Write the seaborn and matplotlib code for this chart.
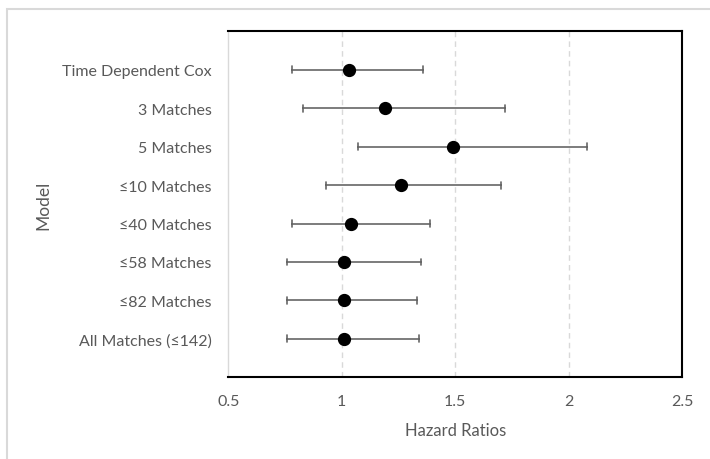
import matplotlib
matplotlib.use("Agg")
import matplotlib.pyplot as plt
from matplotlib.patches import Rectangle
import seaborn as sns
import pandas as pd

# hazard ratios with 95% CI
models = ["Time Dependent Cox", "3 Matches", "5 Matches", "≤10 Matches",
          "≤40 Matches", "≤58 Matches", "≤82 Matches", "All Matches (≤142)"]
hr = [1.03, 1.19, 1.49, 1.26, 1.04, 1.01, 1.01, 1.01]
lower = [0.78, 0.83, 1.07, 0.93, 0.78, 0.76, 0.76, 0.76]
upper = [1.36, 1.72, 2.08, 1.70, 1.39, 1.35, 1.33, 1.34]
xticks = [0.5, 1, 1.5, 2, 2.5]

# long table: median of (lo, hr, hi) is the HR, 100% interval is the CI
rows = []
for m, h, lo, hi in zip(models, hr, lower, upper):
    for v in (lo, h, hi):
        rows.append({"Model": m, "HR": v})
df = pd.DataFrame(rows)

sns.set_style("white")
plt.rcParams['font.family'] = ['Lato', 'DejaVu Sans']
txt = "#595959"

fig = plt.figure(figsize=(7.1, 4.6), dpi=100)
ax = fig.add_axes([0.3216, 0.1776, 0.639, 0.7522])

sns.pointplot(data=df, x="HR", y="Model", order=models, orient="h",
              estimator="median", errorbar=("pi", 100), color="black",
              linestyle="none", markersize=7.5, capsize=0.18,
              err_kws={"color": "#666666", "linewidth": 1.2, "zorder": 1.5},
              ax=ax)

ax.set_xlim(0.5, 2.5)
ax.set_ylim(8, -1)
ax.set_xticks(xticks)
ax.set_xticklabels(["0.5", "1", "1.5", "2", "2.5"])
for x in xticks[1:-1]:
    ax.axvline(x, color="#d9d9d9", lw=1, ls=(0, (4, 3)), zorder=0)

for s in ["top", "right", "bottom"]:
    ax.spines[s].set_color("black")
    ax.spines[s].set_linewidth(1.5)
ax.spines["left"].set_color("#d9d9d9")
ax.spines["left"].set_linewidth(1)

ax.tick_params(axis="both", length=0, labelsize=11.5, labelcolor=txt)
ax.tick_params(axis="y", pad=12)
ax.tick_params(axis="x", pad=12)
ax.set_xlabel("Hazard Ratios", fontsize=12, color=txt, labelpad=10)
ax.set_ylabel("Model", fontsize=12.5, color=txt, labelpad=8)

# light outer chart frame
fig.patches.append(Rectangle((7 / 710, -0.1), 1.1, 1 - 10 / 460 + 0.1,
                             transform=fig.transFigure, fill=False,
                             edgecolor="#d9d9d9", lw=1.5))

fig.savefig("out.png", dpi=100)
